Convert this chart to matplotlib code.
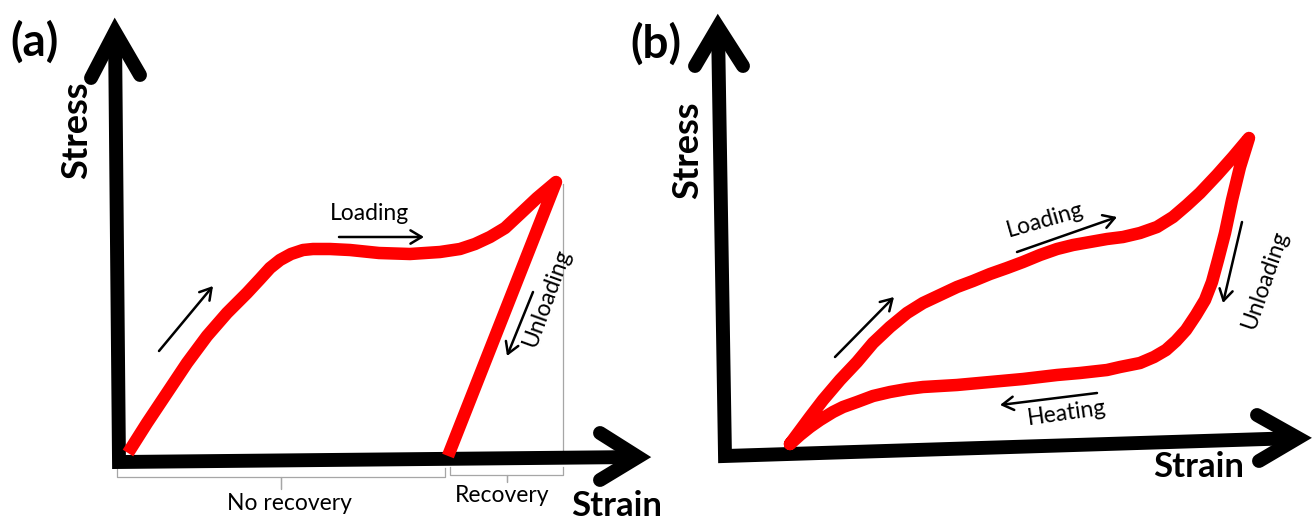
import matplotlib
matplotlib.use("Agg")
import matplotlib.pyplot as plt

plt.rcParams['font.family'] = ['Lato', 'DejaVu Sans']

# everything in pixel units (x to the right, y down)

# panel (a): loading curve then straight unloading back to the strain axis
a_curve_x = [128, 147, 167, 187, 207, 227, 247, 260, 270, 280, 291, 303, 313,
             330, 350, 379, 410, 440, 460, 475, 490, 505, 520, 537, 556, 448]
a_curve_y = [453, 423, 393, 363, 336, 313, 293, 279, 268, 260, 254, 250, 249,
             249, 250, 253, 254, 252, 249, 244, 237, 228, 214, 198, 182, 456]

# panel (b): loading, unloading, heating loop
b_curve_x = [790, 810, 823, 840, 857, 873, 890, 907, 923, 940, 957, 973, 990, 1007,
             1023, 1040, 1057, 1073, 1090, 1107, 1123, 1140, 1157, 1173, 1187, 1200,
             1217, 1233, 1249,
             1240, 1232, 1225, 1218, 1212, 1205, 1196, 1186, 1176, 1166, 1154, 1140,
             1120, 1107, 1080, 1057, 1023, 990, 957, 923, 907, 890, 873, 857, 843,
             833, 820, 810, 800, 790]
b_curve_y = [444, 417, 400, 380, 362, 343, 327, 313, 303, 295, 287, 281, 274, 268,
             262, 255, 249, 245, 242, 239, 237, 233, 227, 217, 205, 193,
             175, 157, 138,
             167, 200, 233, 260, 282, 300, 315, 330, 341, 350, 357, 363,
             367, 370, 373, 375, 379, 382, 385, 387, 389, 392, 396, 402, 407,
             412, 420, 427, 435, 444]

# axes (stress axis tip -> corner -> strain axis tip) and arrow heads
a_axis_x = [115, 119, 638]
a_axis_y = [32, 462, 457]
a_yhead_x = [91, 115, 140]
a_yhead_y = [78, 32, 75]
a_xhead_x = [600, 638, 600]
a_xhead_y = [433, 457, 480]

b_axis_x = [718, 725, 1298]
b_axis_y = [27, 456, 438]
b_yhead_x = [695, 718, 743]
b_yhead_y = [66, 27, 66]
b_xhead_x = [1257, 1298, 1259]
b_xhead_y = [415, 438, 461]

# thin grey guide line and the two braces under the strain axis
guide_x = [563, 563]
guide_y = [184, 452]
brace_no_x = [117, 117, 281, 281, 281, 445, 445]
brace_no_y = [468, 477, 477, 489, 477, 477, 468]
brace_rec_x = [450, 450, 507, 507, 507, 563, 563]
brace_rec_y = [467, 475, 475, 482, 475, 475, 467]

# small black direction arrows: (start, end)
arrows = [
    ((159, 351), (213, 286)),
    ((339, 237), (424, 237)),
    ((533, 292), (507, 356)),
    ((835, 357), (894, 297)),
    ((1017, 252), (1117, 217)),
    ((1242, 222), (1223, 303)),
    ((1097, 393), (1000, 405)),
]

# labels: text, x, y, size, weight, rotation
labels = [
    ("(a)", 35, 42, 33, "bold", 0),
    ("(b)", 656, 44, 33, "bold", 0),
    ("Stress", 77, 130, 26, "bold", 90),
    ("Stress", 688, 150, 26, "bold", 90),
    ("Strain", 617, 506, 25, "bold", 0),
    ("Strain", 1199, 467, 25, "bold", 0),
    ("No recovery", 289, 503, 16.5, "normal", 0),
    ("Recovery", 502, 495, 16.5, "normal", 0),
    ("Loading", 370, 214, 16.5, "normal", 0),
    ("Loading", 1045, 220, 16.5, "normal", 16),
    ("Unloading", 547, 298, 16.5, "normal", 70),
    ("Unloading", 1265, 280, 16.5, "normal", 71),
    ("Heating", 1067, 413, 16.5, "normal", 8),
]

fig = plt.figure(figsize=(13.13, 5.22), dpi=100)
ax = fig.add_axes([0, 0, 1, 1])
ax.set_xlim(0, 1313)
ax.set_ylim(522, 0)
ax.axis("off")

grey = "#a6a6a6"
ax.plot(guide_x, guide_y, color=grey, lw=0.9)
ax.plot(brace_no_x, brace_no_y, color=grey, lw=0.9)
ax.plot(brace_rec_x, brace_rec_y, color=grey, lw=0.9)

# black axes
for xs, ys in [(a_axis_x, a_axis_y), (b_axis_x, b_axis_y)]:
    ax.plot(xs, ys, color="black", lw=10, solid_joinstyle="miter",
            solid_capstyle="butt")
for xs, ys in [(a_yhead_x, a_yhead_y), (a_xhead_x, a_xhead_y),
               (b_yhead_x, b_yhead_y), (b_xhead_x, b_xhead_y)]:
    ax.plot(xs, ys, color="black", lw=10, solid_joinstyle="miter",
            solid_capstyle="round")

# red stress-strain curves
ax.plot(a_curve_x, a_curve_y, color="#ff0000", lw=9, solid_joinstyle="round",
        solid_capstyle="butt")
ax.plot(b_curve_x, b_curve_y, color="#ff0000", lw=9, solid_joinstyle="round",
        solid_capstyle="round")

for (x0, y0), (x1, y1) in arrows:
    ax.annotate("", xy=(x1, y1), xytext=(x0, y0),
                arrowprops=dict(arrowstyle="->,head_length=0.5,head_width=0.3",
                                color="black", lw=1.8, mutation_scale=16,
                                shrinkA=0, shrinkB=0))

for txt, x, y, size, weight, rot in labels:
    ax.text(x, y, txt, fontsize=size, fontweight=weight, rotation=rot,
            ha="center", va="center", rotation_mode="anchor")

fig.savefig("out.png", dpi=100)
